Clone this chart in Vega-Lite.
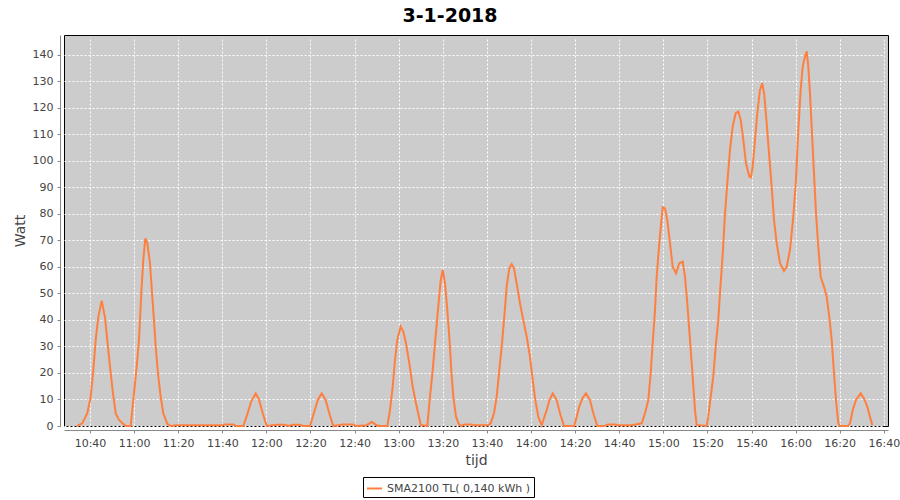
{
  "$schema": "https://vega.github.io/schema/vega-lite/v6.json",
  "width": 824,
  "height": 391,
  "autosize": {"type": "none"},
  "padding": {"left": 64, "top": 35, "right": 12, "bottom": 74},
  "background": "white",
  "title": {"text": "3-1-2018", "font": "DejaVu Sans", "fontSize": 19, "fontWeight": "bold", "color": "black", "anchor": "middle", "frame": "group", "dx": -26, "offset": 9},
  "datasets": {
    "productie": [
    {"tijd": "2018-01-03T10:34:06", "watt": 0},
    {"tijd": "2018-01-03T10:36:30", "watt": 1},
    {"tijd": "2018-01-03T10:38:47", "watt": 4.8},
    {"tijd": "2018-01-03T10:40:19", "watt": 11},
    {"tijd": "2018-01-03T10:41:30", "watt": 21},
    {"tijd": "2018-01-03T10:42:35", "watt": 32.5},
    {"tijd": "2018-01-03T10:43:46", "watt": 41},
    {"tijd": "2018-01-03T10:45:18", "watt": 47.3},
    {"tijd": "2018-01-03T10:46:48", "watt": 41},
    {"tijd": "2018-01-03T10:47:51", "watt": 32.5},
    {"tijd": "2018-01-03T10:49:04", "watt": 22.4},
    {"tijd": "2018-01-03T10:50:26", "watt": 12.3},
    {"tijd": "2018-01-03T10:51:39", "watt": 4.8},
    {"tijd": "2018-01-03T10:53:09", "watt": 2.3},
    {"tijd": "2018-01-03T10:55:06", "watt": 0.8},
    {"tijd": "2018-01-03T10:56:20", "watt": 0},
    {"tijd": "2018-01-03T10:58:27", "watt": 0},
    {"tijd": "2018-01-03T10:59:57", "watt": 12.3},
    {"tijd": "2018-01-03T11:01:11", "watt": 22.4},
    {"tijd": "2018-01-03T11:02:13", "watt": 32.5},
    {"tijd": "2018-01-03T11:03:16", "watt": 50},
    {"tijd": "2018-01-03T11:04:10", "watt": 62.6},
    {"tijd": "2018-01-03T11:05:05", "watt": 70.8},
    {"tijd": "2018-01-03T11:05:59", "watt": 69},
    {"tijd": "2018-01-03T11:07:13", "watt": 61.4},
    {"tijd": "2018-01-03T11:08:15", "watt": 48.8},
    {"tijd": "2018-01-03T11:09:01", "watt": 40},
    {"tijd": "2018-01-03T11:09:48", "watt": 30},
    {"tijd": "2018-01-03T11:10:50", "watt": 19.9},
    {"tijd": "2018-01-03T11:12:04", "watt": 11},
    {"tijd": "2018-01-03T11:13:14", "watt": 4.8},
    {"tijd": "2018-01-03T11:15:03", "watt": 0.8},
    {"tijd": "2018-01-03T11:16:44", "watt": 0},
    {"tijd": "2018-01-03T11:19:27", "watt": 0.3},
    {"tijd": "2018-01-03T11:40:19", "watt": 0.3},
    {"tijd": "2018-01-03T11:41:13", "watt": 0.6},
    {"tijd": "2018-01-03T11:44:51", "watt": 0.6},
    {"tijd": "2018-01-03T11:46:13", "watt": 0},
    {"tijd": "2018-01-03T11:49:31", "watt": 0},
    {"tijd": "2018-01-03T11:51:12", "watt": 4},
    {"tijd": "2018-01-03T11:53:01", "watt": 9},
    {"tijd": "2018-01-03T11:55:09", "watt": 12.3},
    {"tijd": "2018-01-03T11:56:38", "watt": 10},
    {"tijd": "2018-01-03T11:58:27", "watt": 4.5},
    {"tijd": "2018-01-03T12:00:08", "watt": 0},
    {"tijd": "2018-01-03T12:04:40", "watt": 0.5},
    {"tijd": "2018-01-03T12:08:26", "watt": 0.5},
    {"tijd": "2018-01-03T12:09:48", "watt": 0},
    {"tijd": "2018-01-03T12:12:04", "watt": 0.5},
    {"tijd": "2018-01-03T12:15:14", "watt": 0.5},
    {"tijd": "2018-01-03T12:16:36", "watt": 0},
    {"tijd": "2018-01-03T12:19:46", "watt": 0},
    {"tijd": "2018-01-03T12:21:35", "watt": 5},
    {"tijd": "2018-01-03T12:23:24", "watt": 10},
    {"tijd": "2018-01-03T12:25:05", "watt": 12.3},
    {"tijd": "2018-01-03T12:26:48", "watt": 10},
    {"tijd": "2018-01-03T12:28:37", "watt": 4.5},
    {"tijd": "2018-01-03T12:30:20", "watt": 0},
    {"tijd": "2018-01-03T12:34:44", "watt": 0.6},
    {"tijd": "2018-01-03T12:39:16", "watt": 0.6},
    {"tijd": "2018-01-03T12:40:38", "watt": 0},
    {"tijd": "2018-01-03T12:45:29", "watt": 0.3},
    {"tijd": "2018-01-03T12:47:45", "watt": 1.5},
    {"tijd": "2018-01-03T12:50:01", "watt": 0.3},
    {"tijd": "2018-01-03T12:51:31", "watt": 0},
    {"tijd": "2018-01-03T12:54:50", "watt": 0},
    {"tijd": "2018-01-03T12:56:03", "watt": 6},
    {"tijd": "2018-01-03T12:57:17", "watt": 14.8},
    {"tijd": "2018-01-03T12:58:19", "watt": 24.9},
    {"tijd": "2018-01-03T12:59:22", "watt": 32.5},
    {"tijd": "2018-01-03T13:00:54", "watt": 37.5},
    {"tijd": "2018-01-03T13:02:05", "watt": 35.6},
    {"tijd": "2018-01-03T13:03:18", "watt": 31.2},
    {"tijd": "2018-01-03T13:04:48", "watt": 23.7},
    {"tijd": "2018-01-03T13:06:21", "watt": 14.8},
    {"tijd": "2018-01-03T13:07:50", "watt": 8.6},
    {"tijd": "2018-01-03T13:09:20", "watt": 2.9},
    {"tijd": "2018-01-03T13:09:58", "watt": 0.4},
    {"tijd": "2018-01-03T13:12:58", "watt": 0},
    {"tijd": "2018-01-03T13:14:11", "watt": 11},
    {"tijd": "2018-01-03T13:15:25", "watt": 21},
    {"tijd": "2018-01-03T13:16:36", "watt": 32.5},
    {"tijd": "2018-01-03T13:17:57", "watt": 45},
    {"tijd": "2018-01-03T13:19:03", "watt": 55},
    {"tijd": "2018-01-03T13:19:57", "watt": 58.9},
    {"tijd": "2018-01-03T13:21:00", "watt": 53.8},
    {"tijd": "2018-01-03T13:22:02", "watt": 43.8},
    {"tijd": "2018-01-03T13:22:57", "watt": 33.7},
    {"tijd": "2018-01-03T13:23:51", "watt": 21},
    {"tijd": "2018-01-03T13:24:46", "watt": 11},
    {"tijd": "2018-01-03T13:25:59", "watt": 3.5},
    {"tijd": "2018-01-03T13:27:13", "watt": 0.8},
    {"tijd": "2018-01-03T13:28:15", "watt": 0},
    {"tijd": "2018-01-03T13:30:04", "watt": 0.6},
    {"tijd": "2018-01-03T13:33:06", "watt": 0.6},
    {"tijd": "2018-01-03T13:34:09", "watt": 0.3},
    {"tijd": "2018-01-03T13:40:30", "watt": 0.3},
    {"tijd": "2018-01-03T13:41:43", "watt": 1},
    {"tijd": "2018-01-03T13:43:13", "watt": 4.8},
    {"tijd": "2018-01-03T13:44:26", "watt": 11},
    {"tijd": "2018-01-03T13:45:37", "watt": 21},
    {"tijd": "2018-01-03T13:46:51", "watt": 31.2},
    {"tijd": "2018-01-03T13:47:53", "watt": 41.2},
    {"tijd": "2018-01-03T13:48:58", "watt": 52.6},
    {"tijd": "2018-01-03T13:50:09", "watt": 59.5},
    {"tijd": "2018-01-03T13:51:14", "watt": 61.1},
    {"tijd": "2018-01-03T13:52:17", "watt": 59.5},
    {"tijd": "2018-01-03T13:53:30", "watt": 53.8},
    {"tijd": "2018-01-03T13:55:00", "watt": 46.3},
    {"tijd": "2018-01-03T13:56:30", "watt": 40},
    {"tijd": "2018-01-03T13:58:03", "watt": 33.7},
    {"tijd": "2018-01-03T13:59:32", "watt": 26.2},
    {"tijd": "2018-01-03T14:00:46", "watt": 17.4},
    {"tijd": "2018-01-03T14:01:57", "watt": 9.8},
    {"tijd": "2018-01-03T14:03:18", "watt": 3.5},
    {"tijd": "2018-01-03T14:04:51", "watt": 0.3},
    {"tijd": "2018-01-03T14:07:07", "watt": 6},
    {"tijd": "2018-01-03T14:08:23", "watt": 9.8},
    {"tijd": "2018-01-03T14:09:50", "watt": 12.3},
    {"tijd": "2018-01-03T14:11:39", "watt": 9.8},
    {"tijd": "2018-01-03T14:13:09", "watt": 4.8},
    {"tijd": "2018-01-03T14:14:58", "watt": 0},
    {"tijd": "2018-01-03T14:19:38", "watt": 0},
    {"tijd": "2018-01-03T14:21:54", "watt": 7.3},
    {"tijd": "2018-01-03T14:23:21", "watt": 10.5},
    {"tijd": "2018-01-03T14:24:56", "watt": 12.3},
    {"tijd": "2018-01-03T14:26:45", "watt": 9.8},
    {"tijd": "2018-01-03T14:28:15", "watt": 4.8},
    {"tijd": "2018-01-03T14:30:04", "watt": 0},
    {"tijd": "2018-01-03T14:33:33", "watt": 0},
    {"tijd": "2018-01-03T14:34:55", "watt": 0.6},
    {"tijd": "2018-01-03T14:38:05", "watt": 0.6},
    {"tijd": "2018-01-03T14:39:27", "watt": 0.3},
    {"tijd": "2018-01-03T14:45:40", "watt": 0.3},
    {"tijd": "2018-01-03T14:50:12", "watt": 1},
    {"tijd": "2018-01-03T14:51:42", "watt": 4.8},
    {"tijd": "2018-01-03T14:53:12", "watt": 9.8},
    {"tijd": "2018-01-03T14:54:17", "watt": 19.9},
    {"tijd": "2018-01-03T14:55:11", "watt": 31.2},
    {"tijd": "2018-01-03T14:56:14", "watt": 43.8},
    {"tijd": "2018-01-03T14:57:00", "watt": 56.3},
    {"tijd": "2018-01-03T14:58:11", "watt": 69},
    {"tijd": "2018-01-03T14:59:43", "watt": 82.5},
    {"tijd": "2018-01-03T15:00:46", "watt": 82.1},
    {"tijd": "2018-01-03T15:01:48", "watt": 77.7},
    {"tijd": "2018-01-03T15:03:02", "watt": 69},
    {"tijd": "2018-01-03T15:04:15", "watt": 60.1},
    {"tijd": "2018-01-03T15:05:45", "watt": 57.6},
    {"tijd": "2018-01-03T15:07:15", "watt": 61.4},
    {"tijd": "2018-01-03T15:08:48", "watt": 62},
    {"tijd": "2018-01-03T15:09:50", "watt": 56.3},
    {"tijd": "2018-01-03T15:10:53", "watt": 46.3},
    {"tijd": "2018-01-03T15:12:06", "watt": 32.5},
    {"tijd": "2018-01-03T15:13:19", "watt": 18.6},
    {"tijd": "2018-01-03T15:14:22", "watt": 6},
    {"tijd": "2018-01-03T15:15:08", "watt": 0.4},
    {"tijd": "2018-01-03T15:19:40", "watt": 0},
    {"tijd": "2018-01-03T15:20:24", "watt": 3.5},
    {"tijd": "2018-01-03T15:21:29", "watt": 11},
    {"tijd": "2018-01-03T15:22:40", "watt": 18.6},
    {"tijd": "2018-01-03T15:23:53", "watt": 31.2},
    {"tijd": "2018-01-03T15:24:56", "watt": 40},
    {"tijd": "2018-01-03T15:25:52", "watt": 52},
    {"tijd": "2018-01-03T15:26:57", "watt": 65},
    {"tijd": "2018-01-03T15:28:00", "watt": 80.3},
    {"tijd": "2018-01-03T15:29:01", "watt": 91.6},
    {"tijd": "2018-01-03T15:30:15", "watt": 104.2},
    {"tijd": "2018-01-03T15:31:28", "watt": 113},
    {"tijd": "2018-01-03T15:32:50", "watt": 118},
    {"tijd": "2018-01-03T15:34:00", "watt": 118.6},
    {"tijd": "2018-01-03T15:35:06", "watt": 115.5},
    {"tijd": "2018-01-03T15:36:17", "watt": 107.9},
    {"tijd": "2018-01-03T15:37:30", "watt": 99.1},
    {"tijd": "2018-01-03T15:39:00", "watt": 94.1},
    {"tijd": "2018-01-03T15:39:46", "watt": 93.8},
    {"tijd": "2018-01-03T15:40:32", "watt": 97.8},
    {"tijd": "2018-01-03T15:41:35", "watt": 107.9},
    {"tijd": "2018-01-03T15:42:37", "watt": 118},
    {"tijd": "2018-01-03T15:43:51", "watt": 126.8},
    {"tijd": "2018-01-03T15:44:53", "watt": 129.3},
    {"tijd": "2018-01-03T15:45:48", "watt": 124.9},
    {"tijd": "2018-01-03T15:46:53", "watt": 114.2},
    {"tijd": "2018-01-03T15:48:04", "watt": 101.6},
    {"tijd": "2018-01-03T15:49:09", "watt": 90.3},
    {"tijd": "2018-01-03T15:50:12", "watt": 77.7},
    {"tijd": "2018-01-03T15:51:25", "watt": 69},
    {"tijd": "2018-01-03T15:52:55", "watt": 61.4},
    {"tijd": "2018-01-03T15:54:44", "watt": 58.5},
    {"tijd": "2018-01-03T15:55:57", "watt": 60.1},
    {"tijd": "2018-01-03T15:57:27", "watt": 66.4},
    {"tijd": "2018-01-03T15:58:57", "watt": 79},
    {"tijd": "2018-01-03T16:00:10", "watt": 92.8},
    {"tijd": "2018-01-03T16:01:13", "watt": 111.7},
    {"tijd": "2018-01-03T16:02:18", "watt": 126.8},
    {"tijd": "2018-01-03T16:03:13", "watt": 135.6},
    {"tijd": "2018-01-03T16:04:15", "watt": 139.4},
    {"tijd": "2018-01-03T16:05:02", "watt": 141.3},
    {"tijd": "2018-01-03T16:05:45", "watt": 135.6},
    {"tijd": "2018-01-03T16:06:31", "watt": 125.5},
    {"tijd": "2018-01-03T16:07:26", "watt": 110.4},
    {"tijd": "2018-01-03T16:08:20", "watt": 95.3},
    {"tijd": "2018-01-03T16:09:15", "watt": 80.3},
    {"tijd": "2018-01-03T16:10:17", "watt": 67.7},
    {"tijd": "2018-01-03T16:11:22", "watt": 56.3},
    {"tijd": "2018-01-03T16:12:52", "watt": 52.6},
    {"tijd": "2018-01-03T16:14:06", "watt": 48.8},
    {"tijd": "2018-01-03T16:15:16", "watt": 41.2},
    {"tijd": "2018-01-03T16:16:22", "watt": 32.5},
    {"tijd": "2018-01-03T16:17:24", "watt": 19.9},
    {"tijd": "2018-01-03T16:18:19", "watt": 9.8},
    {"tijd": "2018-01-03T16:19:21", "watt": 1},
    {"tijd": "2018-01-03T16:20:07", "watt": 0},
    {"tijd": "2018-01-03T16:23:45", "watt": 0},
    {"tijd": "2018-01-03T16:24:40", "watt": 1},
    {"tijd": "2018-01-03T16:25:53", "watt": 6},
    {"tijd": "2018-01-03T16:27:23", "watt": 9.8},
    {"tijd": "2018-01-03T16:29:31", "watt": 12.3},
    {"tijd": "2018-01-03T16:31:01", "watt": 10.4},
    {"tijd": "2018-01-03T16:32:30", "watt": 7.3},
    {"tijd": "2018-01-03T16:33:44", "watt": 3.5},
    {"tijd": "2018-01-03T16:34:46", "watt": 0.4}
    ]
  },
  "data": {"name": "productie"},
  "mark": {"type": "line", "strokeWidth": 2},
  "encoding": {
    "x": {
      "field": "tijd",
      "type": "temporal",
      "scale": {"domain": ["2018-01-03T10:28:13", "2018-01-03T16:41:54"]},
      "axis": {
        "title": "tijd",
        "format": "%H:%M",
        "values": [
          {"year": 2018, "month": 1, "date": 3, "hours": 10, "minutes": 40},
          {"year": 2018, "month": 1, "date": 3, "hours": 11, "minutes": 0},
          {"year": 2018, "month": 1, "date": 3, "hours": 11, "minutes": 20},
          {"year": 2018, "month": 1, "date": 3, "hours": 11, "minutes": 40},
          {"year": 2018, "month": 1, "date": 3, "hours": 12, "minutes": 0},
          {"year": 2018, "month": 1, "date": 3, "hours": 12, "minutes": 20},
          {"year": 2018, "month": 1, "date": 3, "hours": 12, "minutes": 40},
          {"year": 2018, "month": 1, "date": 3, "hours": 13, "minutes": 0},
          {"year": 2018, "month": 1, "date": 3, "hours": 13, "minutes": 20},
          {"year": 2018, "month": 1, "date": 3, "hours": 13, "minutes": 40},
          {"year": 2018, "month": 1, "date": 3, "hours": 14, "minutes": 0},
          {"year": 2018, "month": 1, "date": 3, "hours": 14, "minutes": 20},
          {"year": 2018, "month": 1, "date": 3, "hours": 14, "minutes": 40},
          {"year": 2018, "month": 1, "date": 3, "hours": 15, "minutes": 0},
          {"year": 2018, "month": 1, "date": 3, "hours": 15, "minutes": 20},
          {"year": 2018, "month": 1, "date": 3, "hours": 15, "minutes": 40},
          {"year": 2018, "month": 1, "date": 3, "hours": 16, "minutes": 0},
          {"year": 2018, "month": 1, "date": 3, "hours": 16, "minutes": 20},
          {"year": 2018, "month": 1, "date": 3, "hours": 16, "minutes": 40}
        ],
        "labelAngle": 0,
        "labelFlush": false,
        "labelOverlap": false,
        "titlePadding": 5
      }
    },
    "y": {
      "field": "watt",
      "type": "quantitative",
      "scale": {"domain": [0, 147.5], "nice": false},
      "axis": {"title": "Watt", "tickCount": 15, "titlePadding": 5}
    },
    "color": {
      "datum": "SMA2100 TL( 0,140 kWh )",
      "scale": {"range": ["#ff7f3f"]},
      "legend": {
        "title": null,
        "orient": "none",
        "legendX": 299,
        "legendY": 442,
        "direction": "horizontal",
        "symbolType": "stroke",
        "symbolSize": 225,
        "symbolStrokeWidth": 2,
        "labelFont": "DejaVu Sans",
        "labelFontSize": 11,
        "labelColor": "#444444",
        "labelLimit": 300,
        "labelOffset": 4,
        "strokeColor": "black",
        "fillColor": "white",
        "padding": 3
      }
    }
  },
  "config": {
    "view": {"fill": "#cccccc", "stroke": "black", "strokeWidth": 1},
    "axis": {
      "domainColor": "#888888",
      "tickColor": "#888888",
      "tickSize": 3,
      "offset": 4,
      "labelPadding": 4,
      "labelFont": "DejaVu Sans",
      "labelFontSize": 11,
      "labelColor": "#444444",
      "titleFont": "DejaVu Sans",
      "titleFontSize": 14,
      "titleFontWeight": "normal",
      "titleColor": "#444444",
      "gridColor": "white",
      "gridDash": [2, 2],
      "gridOpacity": 1,
      "gridWidth": 1
    }
  }
}
